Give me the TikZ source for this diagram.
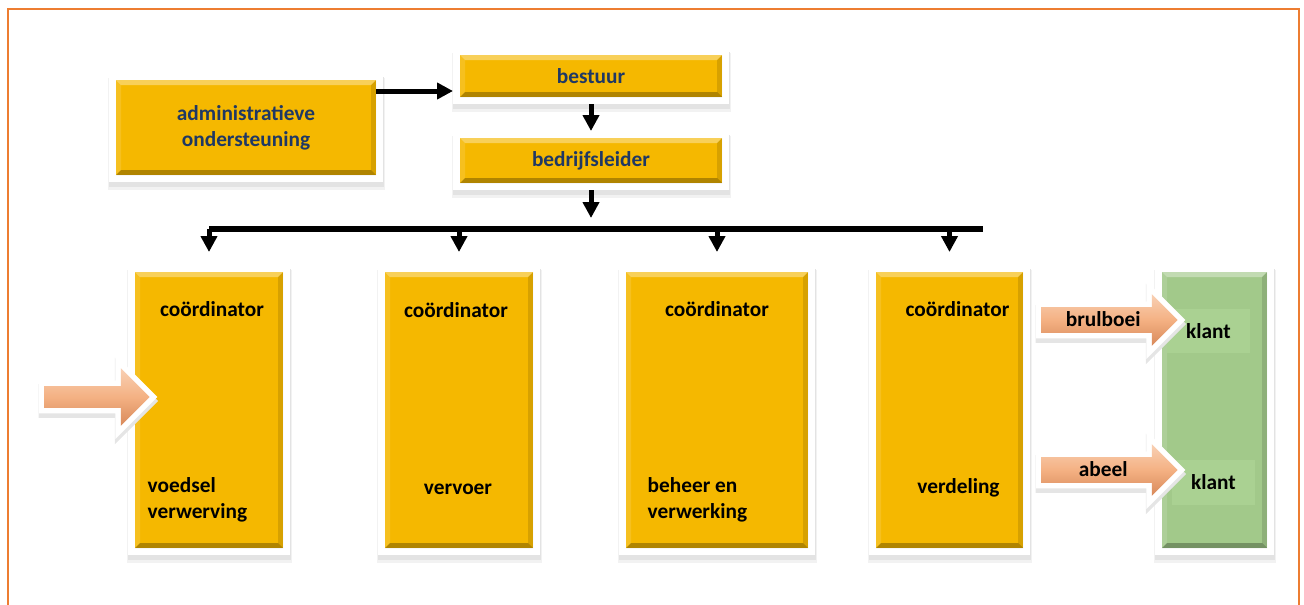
\documentclass[tikz,border=0pt]{standalone}
\usepackage{fontspec}
\setmainfont{Carlito}
\usetikzlibrary{shapes.arrows}
\usetikzlibrary{arrows.meta}
\definecolor{frameor}{HTML}{ED7D31}
\definecolor{gold}{HTML}{F5B800}
\definecolor{navy}{HTML}{1F3864}
\definecolor{leaf}{HTML}{A2C98A}
\definecolor{leaflt}{HTML}{AAD192}
\definecolor{peach}{HTML}{F4B183}
\definecolor{peachdk}{HTML}{D8895A}
\begin{document}
\begin{tikzpicture}[x=.75pt,y=-.75pt,
  font=\fontsize{16}{19.5}\selectfont\bfseries,
  >={Triangle[length=12pt,width=12pt]},
  bevel/.style={path picture={
    \path (path picture bounding box.north west) coordinate (bnw)
      (path picture bounding box.north east) coordinate (bne)
      (path picture bounding box.south west) coordinate (bsw)
      (path picture bounding box.south east) coordinate (bse);
    \fill[white,opacity=.35] (bnw) -- (bne) -- ([shift={(-5,5)}]bne) -- ([shift={(5,5)}]bnw) -- cycle;
    \fill[white,opacity=.12] (bnw) -- (bsw) -- ([shift={(5,-5)}]bsw) -- ([shift={(5,5)}]bnw) -- cycle;
    \fill[black,opacity=.28] (bsw) -- (bse) -- ([shift={(-5,-5)}]bse) -- ([shift={(5,-5)}]bsw) -- cycle;
    \fill[black,opacity=.12] (bne) -- (bse) -- ([shift={(-5,-5)}]bse) -- ([shift={(-5,5)}]bne) -- cycle;
  }},
  card/.style={
    preaction={draw=black!5,line width=17*.75pt,transform canvas={yshift=-5pt}},
    preaction={draw=black!11,line width=15*.75pt,transform canvas={yshift=-3pt}},
    preaction={draw=white,line width=14*.75pt},
    outer sep=7*.75pt, inner sep=0pt},
  goldbox/.style={card,fill=gold,bevel},
  coordbox/.style={goldbox,minimum height=276*.75pt},
  link/.style={->,line width=5*.75pt},
  blockarrow/.style={single arrow,single arrow tip angle=90,
    single arrow head extend=13*.75pt,minimum width=51*.75pt,
    text height=11.5pt,text depth=2.5pt,inner ysep=2.4pt,
    preaction={draw=black!10,line width=12*.75pt,transform canvas={yshift=-3pt}},
    preaction={draw=white,line width=11*.75pt},
    top color=peach!60!white,bottom color=peachdk,middle color=peach},
  ]
  \useasboundingbox (0,0) rectangle (1304,604);
  \draw[frameor,line width=2*.75pt] (8,620) -- (8,9) -- (1299,9) -- (1299,620);

  \node[goldbox,minimum width=260*.75pt,minimum height=95*.75pt,text=navy,align=center]
    (adm) at (246,127.5) {administratieve\\ondersteuning};
  \node[goldbox,minimum width=262*.75pt,minimum height=42*.75pt,text=navy]
    (best) at (591,76) {bestuur};
  \node[goldbox,minimum width=262*.75pt,minimum height=45*.75pt,text=navy]
    (lead) at (591,160.5) {bedrijfsleider};

  \node[coordbox,minimum width=148*.75pt] (c1) at (209,410) {};
  \node[coordbox,minimum width=148*.75pt] (c2) at (459,410) {};
  \node[coordbox,minimum width=182*.75pt] (c3) at (717,410) {};
  \node[coordbox,minimum width=147*.75pt] (c4) at (949.5,410) {};
  \node[card,fill=leaf,bevel,minimum width=105*.75pt,minimum height=276*.75pt] (grn) at (1214.5,410) {};
  \node[fill=leaflt,minimum width=83*.75pt,minimum height=44*.75pt] (k1) at (1208.5,331) {klant};
  \node[fill=leaflt,minimum width=83*.75pt,minimum height=45*.75pt] (k2) at (1213.5,482.5) {klant};

  \path (c1.north) +(3,44) node (c1t) {coördinator};
  \path (c2.north) +(-3,45) node (c2t) {coördinator};
  \path (c3.north) +(0,44) node (c3t) {coördinator};
  \path (c4.north) +(8,44) node (c4t) {coördinator};
  \path (c1.south west) +(15,-55) node (c1b) [anchor=west,align=left] {voedsel\\verwerving};
  \path (c2.south) +(-1,-66) node (c2b) {vervoer};
  \path (c3.south west) +(24,-55) node (c3b) [anchor=west,align=left] {beheer en\\verwerking};
  \path (c4.south) +(9,-67) node (c4b) {verdeling};

  \node[blockarrow,minimum height=136*.75pt,anchor=tip] (brul) at (1178,320) {brulboei};
  \node[blockarrow,minimum height=136*.75pt,anchor=tip] (abeel) at (1178,470) {abeel};
  \node[blockarrow,minimum height=105*.75pt,minimum width=57*.75pt,
    text height=0pt,text depth=0pt,inner ysep=7.9pt,
    single arrow head extend=18*.75pt,anchor=tip] (feed) at (150,397) {};

  \path (adm.north east) +(-7,18) coordinate (admo);
  \draw[link] (admo) -- (admo -| best.west);
  \draw[link] (best.south) -- (lead.north);
  \draw[link] (lead.south) -- ++(0,28);
  \path (lead.south) +(0,39) coordinate (bus);
  \path (c4.north) +(33,-36) coordinate (busR);
  \draw[line width=6*.75pt] (bus -| c1.north) -- (busR);
  \foreach \n in {c1,c2,c3,c4}
    \draw[link] (bus -| \n.north) -- ++(0,23);
\end{tikzpicture}
\end{document}
